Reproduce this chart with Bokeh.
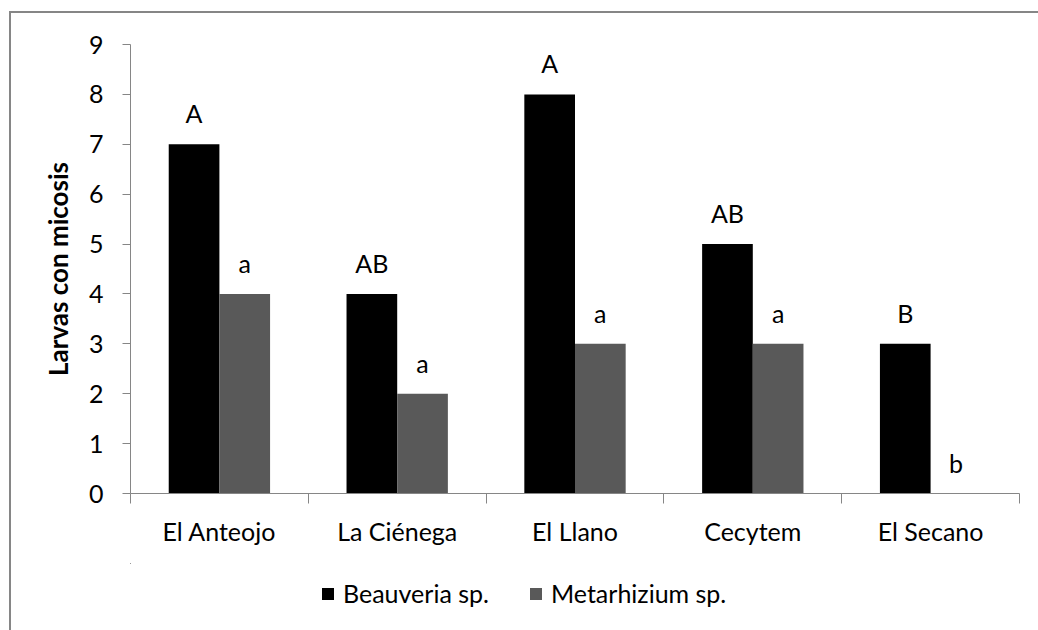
from bokeh.plotting import figure
from bokeh.models import Range1d, FixedTicker, Legend, LegendItem
from bokeh.layouts import column
from bokeh.core.properties import value
from bokeh.embed import file_html
from bokeh.resources import INLINE

categories = ["El Anteojo", "La Ciénega", "El Llano", "Cecytem", "El Secano"]
beauveria = [7, 4, 8, 5, 3]
metarhizium = [4, 2, 3, 3, 0]
letters_beauveria = ["A", "AB", "A", "AB", "B"]
letters_metarhizium = ["a", "a", "a", "a", "b"]
series_names = ["Beauveria sp.", "Metarhizium sp."]
series_colors = ["black", "#595959"]
y_ticks = list(range(0, 10))
y_label = "Larvas con micosis"

FONT = "Lato"
FS = "25px"
AXIS_COLOR = "#868686"

idx = list(range(len(categories)))
bw = 0.285
off = 0.1425
xb = [i + 0.5 - off for i in idx]
xm = [i + 0.5 + off for i in idx]

p = figure(width=1027, height=550, output_backend="svg", toolbar_location=None,
           x_range=Range1d(0, len(categories)), y_range=Range1d(0, 9),
           min_border_left=119, min_border_right=19, min_border_top=31,
           min_border_bottom=70)
p.xgrid.visible = False
p.ygrid.visible = False
p.outline_line_color = None
p.background_fill_color = "white"
p.border_fill_color = "white"

p.vbar(x=xb, top=beauveria, width=bw, fill_color=series_colors[0], line_color=None)
p.vbar(x=xm, top=metarhizium, width=bw, fill_color=series_colors[1], line_color=None)

p.text(x=xb, y=beauveria, text=letters_beauveria, text_align="center",
       text_baseline="alphabetic", y_offset=-31, text_font=value(FONT),
       text_font_size=FS, text_color="black")
p.text(x=xm, y=metarhizium, text=letters_metarhizium, text_align="center",
       text_baseline="alphabetic", y_offset=-31, text_font=value(FONT),
       text_font_size=FS, text_color="black")

xa = p.xaxis[0]
xa.ticker = FixedTicker(ticks=[i + 0.5 for i in idx], minor_ticks=list(range(len(categories) + 1)))
xa.major_label_overrides = {i + 0.5: c for i, c in zip(idx, categories)}
xa.major_tick_line_color = None
xa.major_tick_out = 0
xa.major_tick_in = 0
xa.minor_tick_line_color = AXIS_COLOR
xa.minor_tick_out = 10
xa.minor_tick_in = 0
xa.axis_line_color = AXIS_COLOR
xa.major_label_standoff = 12
xa.major_label_text_font = FONT
xa.major_label_text_font_size = FS
xa.major_label_text_color = "black"

ya = p.yaxis[0]
ya.ticker = FixedTicker(ticks=y_ticks)
ya.minor_tick_line_color = None
ya.major_tick_out = 8
ya.major_tick_in = 0
ya.major_tick_line_color = AXIS_COLOR
ya.axis_line_color = AXIS_COLOR
ya.major_label_standoff = 19
ya.major_label_text_font = FONT
ya.major_label_text_font_size = FS
ya.major_label_text_color = "black"
ya.axis_label = y_label
ya.axis_label_text_font = FONT
ya.axis_label_text_font_style = "bold"
ya.axis_label_text_font_size = "26px"
ya.axis_label_text_color = "black"
ya.axis_label_standoff = 12

# legend strip below the chart (its bars lie far outside its visible ranges)
q = figure(width=1027, height=67, output_backend="svg", toolbar_location=None,
           x_range=Range1d(1000, 1001), y_range=Range1d(-2000, -1999),
           x_axis_type=None, y_axis_type=None,
           min_border_left=119, min_border_right=19, min_border_top=0,
           min_border_bottom=7)
q.xgrid.visible = False
q.ygrid.visible = False
q.outline_line_color = None
q.background_fill_color = "white"
q.border_fill_color = "white"
lr1 = q.vbar(x=xb, top=beauveria, width=bw, fill_color=series_colors[0], line_color=None)
lr2 = q.vbar(x=xm, top=metarhizium, width=bw, fill_color=series_colors[1], line_color=None)
legend = Legend(items=[LegendItem(label=series_names[0], renderers=[lr1]),
                       LegendItem(label=series_names[1], renderers=[lr2])],
                orientation="horizontal", location=(190, 15),
                glyph_width=15, glyph_height=15, label_height=30,
                label_standoff=8, spacing=39, padding=0, margin=0,
                border_line_color=None, background_fill_alpha=0,
                label_text_font=FONT, label_text_font_size=FS,
                label_text_color="black")
q.add_layout(legend, "center")

layout = column(p, q, spacing=0,
                styles={"margin-left": "9px", "margin-top": "11px",
                        "border-left": "2px solid #868686",
                        "border-top": "2px solid #868686"})

open("out.html", "w").write(file_html(layout, INLINE))
